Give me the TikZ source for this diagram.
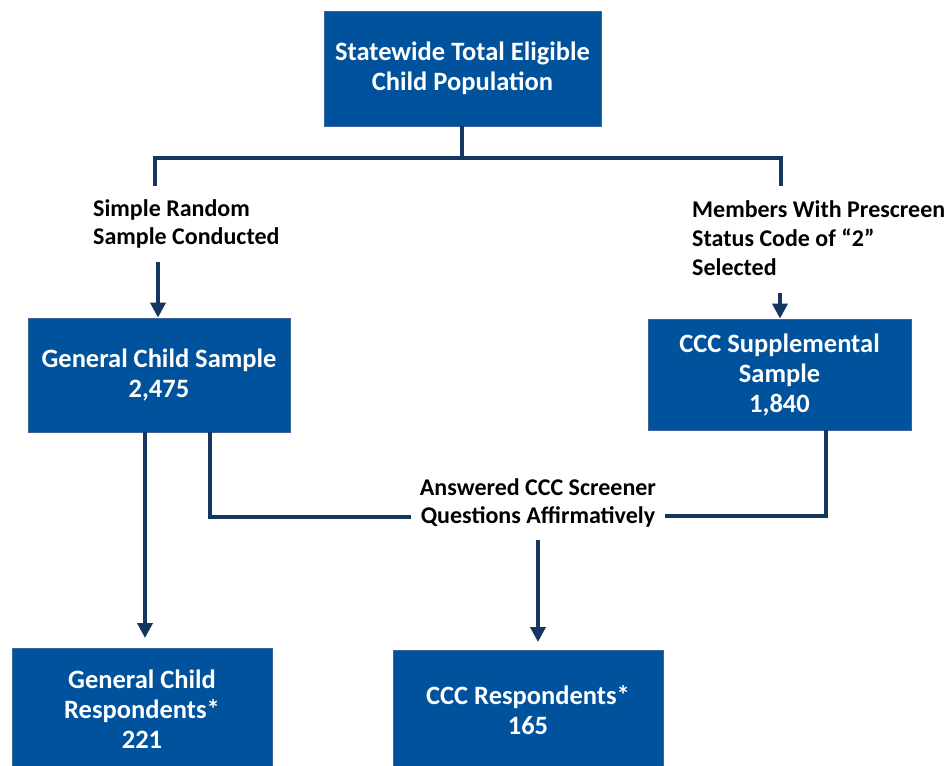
\documentclass[tikz,border=0pt]{standalone}
\usepackage{fontspec}
\setmainfont{Carlito}
\usetikzlibrary{arrows.meta}
\definecolor{boxblue}{RGB}{0,82,156}
\definecolor{boxedge}{RGB}{60,100,150}
\definecolor{linenavy}{RGB}{20,54,96}
\tikzset{
  bluebox/.style={draw=boxedge, line width=0.8pt, fill=boxblue, text=white, align=center,
    font=\fontsize{26.5}{30}\selectfont\bfseries, inner sep=0pt},
  lbl/.style={text=black, font=\fontsize{24}{28.8}\selectfont\bfseries, inner sep=0pt},
  conn/.style={draw=linenavy, line width=3.6pt},
  arr/.style={conn, -{Triangle[width=15pt,length=15pt]}}
}
\begin{document}
\begin{tikzpicture}[x=1pt,y=-1pt]
\clip (0,0) rectangle (951,766);
\fill[white] (0,0) rectangle (951,766);
% boxes
\node[bluebox, minimum width=277pt, minimum height=115pt] (top) at (462.5,68.5) {Statewide Total Eligible\\Child Population};
\node[bluebox, minimum width=262pt, minimum height=114pt] (gcs) at (159,375) {General Child Sample\\2,475};
\node[bluebox, minimum width=263pt, minimum height=111pt] (ccs) at (779.5,374.5) {CCC Supplemental\\Sample\\1,840};
\node[bluebox, minimum width=260pt, minimum height=122pt] (gcr) at (142,709) {General Child\\Respondents*\\221};
\node[bluebox, minimum width=270pt, minimum height=120pt] (cccr) at (528,710) {CCC Respondents*\\165};
% labels
\node[lbl, align=left, anchor=west] (srs) at (93,224) {Simple Random\\Sample Conducted};
\node[lbl, align=left, anchor=west] (mem) at (692,238) {Members With Prescreen\\Status Code of “2”\\Selected};
\node[lbl, align=center, inner xsep=9pt] (ans) at (538,503) {Answered CCC Screener\\Questions Affirmatively};
% coordinates
\coordinate (hj) at (462,158);
\coordinate (hl) at (155,158);
\coordinate (hr) at (781,158);
\coordinate (sl) at (155,184);
\coordinate (sr) at (781,184);
\coordinate (al) at (158,262);
\coordinate (ar) at (780,293);
\coordinate (ansa) at (538,540);
\coordinate (gl) at (210,517);
\coordinate (cr) at (826,516);
% connectors
\draw[conn] (top.south -| hj) -- (hj);
\draw[conn, line cap=rect] (sl) -- (hl) -- (hr) -- (sr);
\draw[arr] (al) -- (al |- gcs.north);
\draw[arr] (ar) -- (ar |- ccs.north);
\draw[conn] (gcs.south -| gl) -- (gl) -- (gl -| ans.west);
\draw[conn] (ccs.south -| cr) -- (cr) -- (cr -| ans.east);
\draw[arr] (gcs.south -| 145,0) -- (145,638);
\draw[arr] (ansa) -- (538,642);
\end{tikzpicture}
\end{document}
